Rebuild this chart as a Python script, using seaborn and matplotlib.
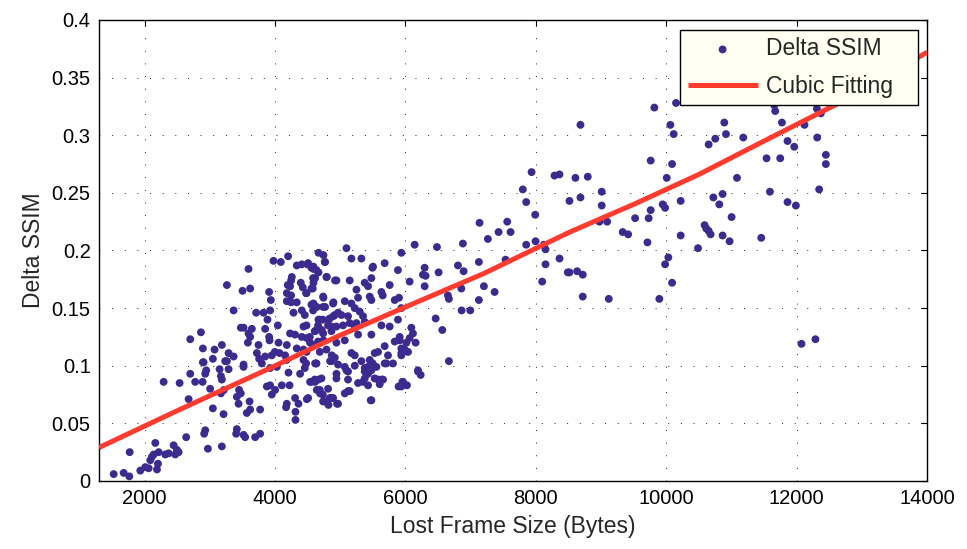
import numpy as np
import pandas as pd
import matplotlib
matplotlib.use("Agg")
import matplotlib.pyplot as plt
from matplotlib.ticker import FuncFormatter
import seaborn as sns

# ---- data (Lost frame size in bytes, Delta SSIM) ----
low_x = [1525, 1678, 1764, 1770, 1933, 2009, 2061, 2086, 2112, 2163,
         2189, 2204, 2215, 2138, 2316, 2368, 2444, 2469, 2521, 2495,
         2637, 2929, 2913, 2970, 3184, 3414, 3403, 3517, 3541, 3695, 3771]
low_y = [.006, .007, .004, .025, .009, .012, .011, .018, .021, .033,
         .010, .015, .025, .023, .023, .024, .031, .023, .025, .027,
         .038, .044, .041, .028, .030, .045, .041, .040, .038, .038, .041]

b_x = [2291, 2536, 2674, 2699, 2775, 2889, 2893, 2944, 2929, 3046,
       3149, 3169, 3184, 3210, 3235, 3287, 3169, 3215, 3414, 3440,
       3448, 3474, 3517, 3609, 3618, 3567, 3771, 3797, 3874, 3924,
       3950, 4001, 3924, 4027, 4104, 4169, 4180, 4222, 4206, 4307,
       4313, 4313, 4359, 4384, 4487, 4537, 4614, 4640, 4666, 4690,
       4732, 4767, 4819, 4839, 4614, 4476, 3004, 4176, 4456]
b_y = [.086, .085, .071, .093, .086, .086, .103, .096, .093, .063,
       .097, .091, .088, .058, .104, .097, .076, .079, .073, .067,
       .079, .076, .101, .069, .062, .059, .062, .102, .082, .083,
       .075, .079, .098, .099, .083, .064, .067, .083, .094, .072,
       .060, .053, .067, .093, .071, .086, .086, .079, .088, .076,
       .075, .069, .066, .072, .102, .102, .080, .105, .098]

c_x = [3593, 3261, 3501, 3618, 3364, 2863, 2699, 2893, 3072, 3184,
       3046, 2904, 3287, 3261, 3364, 3475, 3517, 3593, 3618, 3644,
       3583, 3746, 3721, 3756, 3517, 3848, 3823, 3710, 3884, 3924,
       3935, 3909, 3976, 4088, 4200, 4042, 3909, 3915, 4053, 4180,
       4068, 3996, 3950, 3848, 4154, 4230, 4307, 4436, 4410, 4487,
       4333, 4436, 4537, 4614, 4640, 4716, 4742, 4666, 4732, 4819,
       4869, 4895, 4640, 4767, 4742, 4895, 4589, 4410, 4283, 4333,
       4180, 4246, 4180, 4246, 4230, 4195, 4246, 4257, 4394, 4425,
       4476, 4578, 4589, 4614, 4589, 4666, 4793, 4920, 4333, 4410,
       4497, 4589, 4666, 4742, 4767, 4436, 4629, 4844, 4916, 4870]
c_y = [.184, .170, .165, .167, .148, .129, .123, .115, .114, .118,
       .106, .103, .111, .104, .108, .133, .133, .128, .125, .132,
       .120, .118, .111, .106, .099, .132, .146, .146, .140, .148,
       .157, .164, .191, .190, .195, .135, .125, .122, .120, .118,
       .111, .112, .109, .108, .109, .128, .127, .134, .125, .124,
       .115, .114, .120, .130, .131, .131, .122, .140, .140, .140,
       .134, .143, .151, .151, .159, .155, .154, .148, .146, .155,
       .156, .155, .163, .161, .169, .170, .174, .177, .172, .168,
       .163, .167, .172, .176, .184, .181, .177, .174, .187, .188,
       .188, .186, .198, .196, .190, .105, .102, .104, .107, .109]

d_x = [4762, 4507, 5095, 5171, 5324, 5681, 5502, 5885, 5937, 6141,
       4558, 4635, 4583, 4788, 4941, 5145, 5477, 5375, 5426, 5758,
       6064, 6268, 4558, 4482, 4737, 5248, 5273, 5452, 5477, 5631,
       5651, 5835, 4558, 4583, 4737, 4890, 5069, 5171, 5222, 4966,
       5018, 4915, 4839, 4686, 4660, 4482, 4456, 5119, 5298, 5349,
       5375, 5248, 5145, 5043, 4941, 4813, 4865, 4737, 4609, 4533,
       5631, 5758, 5885, 6090, 5477, 5222, 5273, 5069, 4941, 4660,
       4583, 4482, 4686, 4788, 5171, 5222, 5528, 5681, 5835, 5911,
       6014, 6064, 6115, 6039, 5937, 4865, 4635, 4966, 5095, 5324,
       5375, 5452, 5498, 5477, 5426, 5681, 5809, 6192, 6233, 4609,
       4712, 4558, 4941, 5119, 5375, 5528, 5631, 5605, 5962, 5937,
       4686, 4813, 5119, 4507, 4737, 4890, 4966, 5477]
d_y = [.190, .189, .202, .193, .193, .189, .186, .183, .198, .205,
       .185, .183, .176, .177, .174, .174, .176, .172, .169, .170,
       .173, .179, .167, .163, .160, .166, .159, .160, .157, .164,
       .161, .157, .153, .148, .151, .154, .156, .154, .150, .146,
       .144, .144, .141, .140, .135, .135, .144, .143, .147, .143,
       .138, .137, .137, .135, .134, .135, .130, .128, .130, .125,
       .135, .134, .140, .133, .127, .133, .127, .122, .120, .121,
       .118, .112, .112, .114, .111, .109, .111, .117, .121, .122,
       .120, .124, .128, .112, .111, .104, .102, .101, .096, .104,
       .098, .105, .102, .096, .093, .102, .102, .095, .092, .088,
       .089, .086, .089, .088, .089, .089, .088, .084, .086, .082,
       .079, .080, .078, .072, .069, .072, .067, .070]

e_x = [4942, 5069, 5222, 5119, 5375, 5426, 5554, 5708, 5349, 5273,
       5426, 5579, 5656, 5069, 5145, 4865, 4950, 5467, 5895, 5953,
       6023, 6666]
e_y = [.093, .099, .100, .095, .095, .099, .099, .102, .086, .085,
       .083, .088, .088, .076, .078, .072, .067, .070, .082, .086,
       .083, .104]

f_x = [5493, 5901, 6483, 6881, 7264, 7428, 7612, 6294, 6309,
       6508, 6805, 6892, 7126, 6294, 6651, 6666, 6857, 6861, 6994,
       7126, 7203, 7367, 7535, 7852, 7995, 8122, 8148, 8363, 8148,
       8490, 8097, 6463, 6565, 6156, 5937, 5911, 5937, 5988, 5937,
       6192, 5732, 5579]
f_y = [.185, .159, .203, .206, .210, .216, .216, .185, .178,
       .181, .187, .182, .190, .169, .161, .158, .167, .148, .148,
       .157, .169, .164, .192, .205, .208, .205, .201, .193, .188,
       .181, .173, .141, .131, .120, .150, .125, .115, .114, .109,
       .096, .109, .112]

g_x = [7934, 8286, 8362, 7800, 7852, 7990, 8515, 7136, 7561,
       9817, 10150, 8684, 10063, 10114, 10890, 10916, 10752, 10650, 11181,
       11656, 11671, 11774, 12120, 12310, 12371, 12315, 11860, 11963, 12448,
       12448, 9761, 10089, 11538, 11748, 11085, 10007, 8607, 8796, 9010,
       8684, 9010, 10221, 10722, 10864, 10813, 11590, 12345, 11860, 11988,
       9945, 9982, 9761, 9522, 9730, 11002, 8975, 9093, 9332, 10588,
       10614, 9415, 9711, 10221, 10487, 10650, 10680, 10864, 10971, 11457,
       10032, 9982, 10089, 9894, 8515, 8633, 8719, 8719, 9118, 12074,
       12288]
g_y = [.268, .265, .266, .253, .242, .231, .243, .224, .225,
       .324, .328, .309, .309, .301, .311, .301, .297, .292, .298,
       .326, .321, .311, .309, .323, .319, .298, .295, .290, .283,
       .275, .278, .275, .280, .280, .263, .263, .263, .264, .251,
       .246, .239, .243, .246, .249, .240, .251, .253, .242, .239,
       .240, .237, .235, .228, .228, .229, .225, .225, .216, .222,
       .219, .214, .207, .213, .202, .217, .214, .213, .208, .211,
       .194, .188, .172, .158, .181, .182, .179, .160, .158, .119,
       .123]

# cubic fitting curve
fit_x = [1300, 2500, 3850, 4940, 5960, 7200, 8520, 9500, 10500, 11500, 12650, 14000]
fit_y = [0.029, 0.061, 0.096, 0.125, 0.150, 0.180, 0.216, 0.240, 0.266, 0.295, 0.328, 0.372]

x_ticks = [2000, 4000, 6000, 8000, 10000, 12000, 14000]
y_ticks = [0, 0.05, 0.1, 0.15, 0.2, 0.25, 0.3, 0.35, 0.4]

frame_size = np.array(low_x + b_x + c_x + d_x + e_x + f_x + g_x, dtype=float)
delta_ssim = np.array(low_y + b_y + c_y + d_y + e_y + f_y + g_y, dtype=float)
df = pd.DataFrame({"size": frame_size, "dssim": delta_ssim})
fit_df = pd.DataFrame({"size": fit_x, "dssim": fit_y})

# ---- plot ----
sns.set_theme(style="white")
plt.rcParams["font.family"] = ["Liberation Sans", "DejaVu Sans"]

fig = plt.figure(figsize=(9.67, 5.49), dpi=100)
ax = fig.add_axes([0.1024, 0.1239, 0.8563, 0.8397])

pt_color = "#3D2A8E"
line_color = "#FF3B30"

sns.scatterplot(data=df, x="size", y="dssim", ax=ax, color=pt_color, s=32,
                linewidth=0, edgecolor="none", label="Delta SSIM", zorder=3)
sns.lineplot(data=fit_df, x="size", y="dssim", ax=ax, color=line_color,
             linewidth=3.6, label="Cubic Fitting", zorder=4, solid_capstyle="butt")

ax.set_xlim(1300, 14000)
ax.set_ylim(0, 0.4)
ax.set_xticks(x_ticks)
ax.set_yticks(y_ticks)
ax.yaxis.set_major_formatter(FuncFormatter(lambda v, p: "%g" % v))
ax.xaxis.set_major_formatter(FuncFormatter(lambda v, p: "%d" % v))

ax.grid(True, color="#222222", linestyle=(0, (1, 12)), linewidth=0.7)
ax.tick_params(direction="in", length=4.5, width=0.8, top=True, right=True,
               labelsize=14.5, colors="black", pad=6)
for s in ax.spines.values():
    s.set_color("black")
    s.set_linewidth(1.0)

ax.set_xlabel("Lost Frame Size (Bytes)", fontsize=16.5, labelpad=5)
ax.set_ylabel("Delta SSIM", fontsize=16.5, labelpad=5)

leg = ax.legend(loc="upper left", bbox_to_anchor=(0.702, 0.978, 0.287, 0.0),
                mode="expand", fontsize=16.5,
                frameon=True, fancybox=False, framealpha=1, edgecolor="black",
                facecolor="#FFFFF2", handlelength=3.05, borderpad=0.32,
                labelspacing=0.62, handletextpad=0.35, borderaxespad=0)
leg.get_frame().set_linewidth(1.0)

fig.savefig("out.png", dpi=100)
